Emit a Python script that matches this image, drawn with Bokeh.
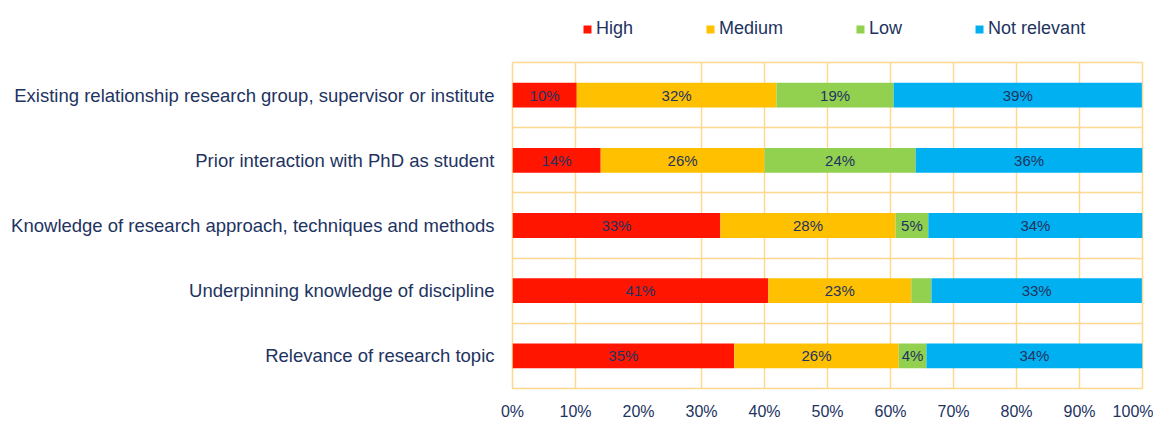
from bokeh.plotting import figure
from bokeh.layouts import column
from bokeh.models import (Range1d, FixedTicker, Legend, LegendItem, ColumnDataSource,
                          PrintfTickFormatter, LabelSet)
from bokeh.core.properties import value
from bokeh.embed import file_html
from bokeh.resources import INLINE

categories = [
    "Relevance of research topic",
    "Underpinning knowledge of discipline",
    "Knowledge of research approach, techniques and methods",
    "Prior interaction with PhD as student",
    "Existing relationship research group, supervisor or institute",
]
series = ["High", "Medium", "Low", "Not relevant"]
high = [35.2, 40.6, 33.0, 14.0, 10.2]
medium = [26.1, 22.7, 27.8, 26.0, 31.7]
low = [4.4, 3.2, 5.2, 24.0, 18.6]
not_relevant = [34.3, 33.4, 34.0, 36.0, 39.4]
colors = ["#FF1500", "#FFC000", "#92D050", "#00B0F0"]
x_ticks = [0, 10, 20, 30, 40, 50, 60, 70, 80, 90, 100]
grid_x = [0, 10, 30, 40, 50, 60, 70, 80, 90, 100]

TEXT = "#22335F"
GRID = "#FDD88E"
FONT = "Liberation Sans"
W = 1153

ys = list(range(len(categories)))
data = {"y": ys, "High": high, "Medium": medium, "Low": low, "Not relevant": not_relevant}
src = ColumnDataSource(data)

p = figure(frame_width=630, frame_height=326, output_backend="svg", toolbar_location=None,
           x_range=Range1d(0, 100), y_range=Range1d(-0.5, len(categories) - 0.5),
           min_border_left=512, min_border_top=1, min_border_right=11, min_border_bottom=25)
p.outline_line_color = GRID
p.outline_line_width = 1.5

renderers = p.hbar_stack(series, y="y", height=0.38, color=colors, source=src, line_color=None)

# labels centered on each segment
lx, ly, lt = [], [], []
vals = [high, medium, low, not_relevant]
for i in range(len(categories)):
    cum = 0.0
    for s in range(len(series)):
        v = vals[s][i]
        if v >= 3.5:
            lx.append(cum + v / 2)
            ly.append(ys[i])
            lt.append(f"{round(v)}%")
        cum += v
lsrc = ColumnDataSource(dict(x=lx, y=ly, t=lt))
p.add_layout(LabelSet(x="x", y="y", text="t", source=lsrc, text_align="center",
                      text_baseline="middle", text_font=value(FONT), text_font_size="15px",
                      text_color=TEXT))

# axes
p.xaxis.ticker = FixedTicker(ticks=x_ticks)
p.xaxis.formatter = PrintfTickFormatter(format="%d%%")
p.yaxis.ticker = FixedTicker(ticks=ys)
p.yaxis.major_label_overrides = {i: c for i, c in zip(ys, categories)}
for ax in (p.xaxis, p.yaxis):
    ax.axis_line_color = None
    ax.major_tick_line_color = None
    ax.minor_tick_line_color = None
    ax.major_label_text_font = FONT
    ax.major_label_text_color = TEXT
p.xaxis.major_label_text_font_size = "16px"
p.yaxis.major_label_text_font_size = "18.5px"
p.xaxis.major_label_standoff = 8
p.yaxis.major_label_standoff = 12

p.xgrid.ticker = FixedTicker(ticks=grid_x)
p.xgrid.grid_line_color = GRID
p.xgrid.grid_line_width = 1.5
p.ygrid.ticker = FixedTicker(ticks=[y - 0.5 for y in ys] + [ys[-1] + 0.5])
p.ygrid.grid_line_color = GRID
p.ygrid.grid_line_width = 1.5

# legend strip above the chart (same data, drawn outside this strip's visible range)
pl = figure(width=W, height=61, output_backend="svg", toolbar_location=None,
            x_range=Range1d(0, 100), y_range=Range1d(50, 51), min_border=0)
pl.axis.visible = False
pl.grid.visible = False
pl.outline_line_color = None
lrs = pl.hbar_stack(series, y="y", height=0.38, color=colors, source=src, line_color=None)
legend = Legend(items=[LegendItem(label=s, renderers=[r]) for s, r in zip(series, lrs)],
                orientation="horizontal", location=(70, 22), spacing=72,
                glyph_width=10, glyph_height=10, label_standoff=4,
                label_text_font=FONT, label_text_font_size="18px", label_text_color=TEXT,
                border_line_color=None, background_fill_alpha=0, padding=0, margin=0)
pl.add_layout(legend, "center")

layout = column(pl, p, spacing=0)
open("out.html", "w").write(file_html(layout, INLINE))
